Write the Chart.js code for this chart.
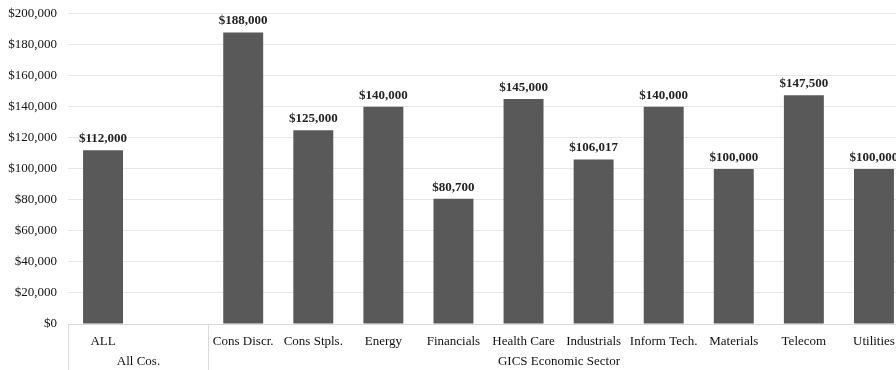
<!DOCTYPE html>
<html>
<head>
<meta charset="utf-8">
<script src="https://cdn.jsdelivr.net/npm/chart.js@4"></script>
<style>
  html, body { margin: 0; padding: 0; background: #fff; overflow: hidden; }
  #wrap { width: 914px; height: 375px; margin-top: -5px; }
</style>
</head>
<body>
<div id="wrap"><canvas id="salaryChart"></canvas></div>
<script>
// median pay by sector; the empty slot keeps a gap after the ALL bar
const categories = ["ALL", "", "Cons Discr.", "Cons Stpls.", "Energy", "Financials", "Health Care",
  "Industrials", "Inform Tech.", "Materials", "Telecom", "Utilities"];
const values = [112000, null, 188000, 125000, 140000, 80700, 145000, 106017, 140000, 100000, 147500, 100000];
const groups = [
  { label: "All Cos.", from: 0, to: 1 },
  { label: "GICS Economic Sector", from: 2, to: 11 }
];
const yTicks = [0, 20000, 40000, 60000, 80000, 100000, 120000, 140000, 160000, 180000, 200000];

const serif = "'Liberation Serif', 'Times New Roman', serif";
const money = v => "$" + v.toLocaleString("en-US");

// value labels on top of each bar
const barLabels = {
  id: "barLabels",
  afterDatasetsDraw(chart) {
    const ctx = chart.ctx;
    const meta = chart.getDatasetMeta(0);
    ctx.save();
    ctx.font = "bold 13px " + serif;
    ctx.fillStyle = "#222";
    ctx.textAlign = "center";
    ctx.textBaseline = "bottom";
    meta.data.forEach((bar, i) => {
      if (values[i] == null) return;
      ctx.fillText(money(values[i]), bar.x, bar.y - 5);
    });
    ctx.restore();
  }
};

// second row of the category axis: group names and separators
const groupAxis = {
  id: "groupAxis",
  afterDraw(chart) {
    const ctx = chart.ctx;
    const x = chart.scales.x;
    const area = chart.chartArea;
    const half = (x.getPixelForValue(1) - x.getPixelForValue(0)) / 2;
    ctx.save();
    ctx.strokeStyle = "#d9d9d9";
    ctx.lineWidth = 1;
    ctx.beginPath();
    ctx.moveTo(area.left, area.bottom + 0.5);
    ctx.lineTo(area.right, area.bottom + 0.5);
    ctx.stroke();
    ctx.font = "13px " + serif;
    ctx.fillStyle = "#111";
    ctx.textAlign = "center";
    ctx.textBaseline = "middle";
    groups.forEach(g => {
      const l = Math.round(x.getPixelForValue(g.from) - half) + 0.5;
      const r = Math.round(x.getPixelForValue(g.to) + half) + 0.5;
      ctx.beginPath();
      ctx.moveTo(l, area.bottom);
      ctx.lineTo(l, chart.height);
      ctx.moveTo(r, area.bottom);
      ctx.lineTo(r, chart.height);
      ctx.stroke();
      ctx.fillText(g.label, (l + r) / 2, area.bottom + 38);
    });
    ctx.restore();
  }
};

new Chart(document.getElementById("salaryChart"), {
  type: "bar",
  data: {
    labels: categories,
    datasets: [{
      data: values,
      backgroundColor: "#595959",
      categoryPercentage: 1,
      barPercentage: 0.57
    }]
  },
  options: {
    responsive: true,
    maintainAspectRatio: false,
    animation: false,
    layout: { padding: { top: 8, right: 5, left: 0, bottom: 0 } },
    plugins: { legend: { display: false }, tooltip: { enabled: false } },
    scales: {
      x: {
        grid: { display: false },
        border: { display: false },
        ticks: { font: { family: serif, size: 13 }, color: "#111", padding: 2, maxRotation: 0, autoSkip: false },
        afterFit: s => { s.height = 46; }
      },
      y: {
        min: 0,
        max: 200000,
        afterBuildTicks: s => { s.ticks = yTicks.map(v => ({ value: v })); },
        grid: { color: "#e6e6e6", drawTicks: false },
        border: { display: false },
        ticks: { font: { family: serif, size: 13 }, color: "#111", padding: 11, callback: v => money(v) },
        afterFit: s => { s.width = 68; }
      }
    }
  },
  plugins: [barLabels, groupAxis]
});
</script>
</body>
</html>
